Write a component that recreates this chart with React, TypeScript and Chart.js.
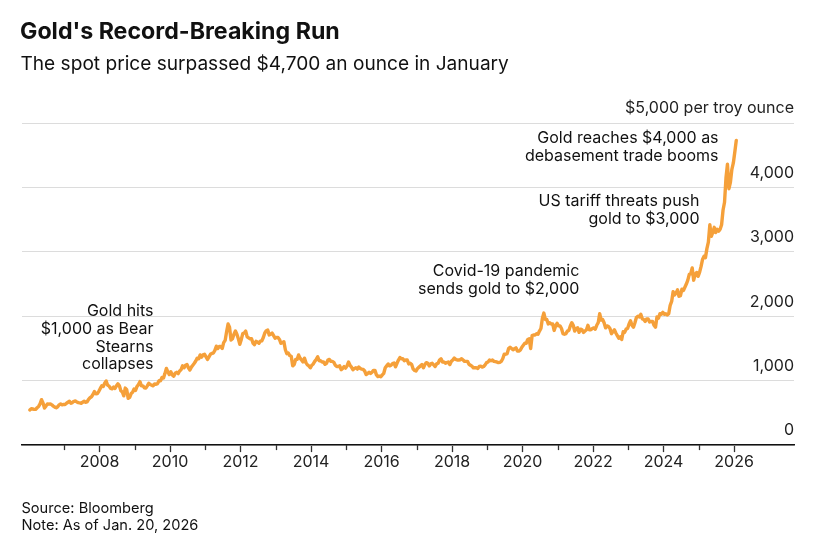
import React, { useEffect, useRef } from "react";
import { Chart, registerables } from "chart.js";

Chart.register(...registerables);

const FONT = "Inter, 'Liberation Sans', Arial, sans-serif";

const TITLE = "Gold's Record-Breaking Run";
const SUBTITLE = "The spot price surpassed $4,700 an ounce in January";
const SOURCE = "Source: Bloomberg";
const NOTE = "Note: As of Jan. 20, 2026";

// Spot gold, USD per troy ounce, two readings per month (first half, second half)
const START_YEAR = 2006;
const READINGS_PER_YEAR = 24;
const y2006 = [545, 565, 560, 555, 555, 580, 600, 640, 705, 655, 575, 605, 640, 635, 640, 625, 605, 590, 580, 595, 625, 640, 625, 632];
const y2007 = [630, 650, 665, 680, 650, 660, 680, 685, 670, 660, 655, 650, 665, 680, 665, 670, 710, 735, 750, 785, 830, 795, 800, 835];
const y2008 = [880, 920, 910, 960, 995, 930, 915, 880, 875, 900, 880, 920, 950, 920, 845, 825, 765, 885, 860, 725, 740, 800, 820, 870];
const y2009 = [850, 910, 940, 985, 920, 920, 890, 885, 920, 960, 940, 930, 920, 950, 945, 955, 1000, 1000, 1050, 1040, 1110, 1190, 1135, 1095];
const y2010 = [1140, 1090, 1070, 1115, 1130, 1110, 1150, 1170, 1230, 1200, 1240, 1250, 1200, 1165, 1210, 1240, 1270, 1305, 1350, 1340, 1400, 1365, 1400, 1410];
const y2011 = [1370, 1330, 1370, 1410, 1425, 1430, 1470, 1535, 1500, 1530, 1530, 1500, 1590, 1625, 1760, 1880, 1830, 1630, 1650, 1720, 1770, 1720, 1650, 1565];
const y2012 = [1640, 1730, 1740, 1770, 1680, 1665, 1650, 1650, 1580, 1560, 1610, 1600, 1580, 1615, 1620, 1670, 1740, 1775, 1785, 1710, 1720, 1740, 1700, 1660];
const y2013 = [1670, 1670, 1640, 1580, 1590, 1605, 1480, 1420, 1430, 1390, 1380, 1230, 1250, 1330, 1330, 1400, 1350, 1320, 1290, 1350, 1280, 1245, 1230, 1200];
const y2014 = [1240, 1260, 1300, 1330, 1370, 1310, 1310, 1290, 1290, 1255, 1270, 1320, 1330, 1300, 1300, 1285, 1240, 1220, 1220, 1230, 1170, 1190, 1220, 1195];
const y2015 = [1230, 1290, 1240, 1210, 1170, 1190, 1200, 1180, 1210, 1190, 1180, 1175, 1150, 1095, 1110, 1130, 1110, 1130, 1160, 1160, 1090, 1065, 1070, 1060];
const y2016 = [1090, 1115, 1200, 1230, 1260, 1230, 1240, 1265, 1275, 1215, 1270, 1320, 1360, 1340, 1340, 1310, 1320, 1320, 1260, 1270, 1250, 1180, 1160, 1150];
const y2017 = [1190, 1210, 1230, 1250, 1200, 1250, 1280, 1270, 1230, 1260, 1270, 1245, 1220, 1260, 1270, 1320, 1340, 1290, 1290, 1270, 1280, 1290, 1250, 1300];
const y2018 = [1320, 1350, 1330, 1320, 1320, 1325, 1340, 1320, 1300, 1300, 1300, 1255, 1240, 1225, 1200, 1200, 1200, 1190, 1220, 1225, 1210, 1220, 1245, 1280];
const y2019 = [1290, 1320, 1310, 1320, 1300, 1295, 1290, 1280, 1285, 1300, 1340, 1410, 1410, 1420, 1500, 1520, 1500, 1480, 1495, 1510, 1460, 1460, 1475, 1520];
const y2020 = [1550, 1580, 1580, 1640, 1650, 1500, 1700, 1710, 1710, 1730, 1720, 1770, 1810, 1970, 2050, 1950, 1950, 1880, 1900, 1880, 1880, 1780, 1850, 1890];
const y2021 = [1850, 1850, 1810, 1730, 1720, 1730, 1770, 1780, 1850, 1900, 1860, 1770, 1810, 1820, 1750, 1800, 1790, 1750, 1770, 1790, 1860, 1790, 1790, 1810];
const y2022 = [1820, 1800, 1860, 1900, 2040, 1940, 1950, 1900, 1820, 1850, 1840, 1810, 1730, 1760, 1790, 1740, 1700, 1660, 1680, 1640, 1760, 1750, 1800, 1810];
const y2023 = [1880, 1930, 1860, 1830, 1900, 1980, 2000, 1990, 2030, 1960, 1950, 1920, 1960, 1960, 1910, 1920, 1920, 1860, 1830, 1990, 1970, 2040, 2030, 2060];
const y2024 = [2030, 2040, 2020, 2040, 2170, 2230, 2380, 2330, 2360, 2410, 2310, 2320, 2420, 2400, 2450, 2500, 2560, 2650, 2660, 2750, 2560, 2650, 2680, 2620];
const y2025 = [2680, 2770, 2880, 2930, 2910, 3050, 3150, 3420, 3240, 3300, 3380, 3300, 3350, 3320, 3350, 3420, 3650, 3770, 4150, 4360, 3980, 4080, 4280, 4380];
const y2026 = [4550, 4730];

const prices = [
  ...y2006, ...y2007, ...y2008, ...y2009, ...y2010, ...y2011, ...y2012,
  ...y2013, ...y2014, ...y2015, ...y2016, ...y2017, ...y2018, ...y2019,
  ...y2020, ...y2021, ...y2022, ...y2023, ...y2024, ...y2025, ...y2026,
];

const xTickYears = [2007, 2008, 2009, 2010, 2011, 2012, 2013, 2014, 2015, 2016, 2017, 2018, 2019, 2020, 2021, 2022, 2023, 2024, 2025, 2026];
const xLabelYears = [2008, 2010, 2012, 2014, 2016, 2018, 2020, 2022, 2024, 2026];
const X_MIN = 2005.8;
const X_MAX = 2027.7;

const yTickValues = [0, 1000, 2000, 3000, 4000, 5000];
const yTickLabels = ["0", "1,000", "2,000", "3,000", "4,000", "$5,000 per troy ounce"];

const annotations = [
  { lines: ["Gold hits", "$1,000 as Bear", "Stearns", "collapses"], x: 2009.53, y: 2074 },
  { lines: ["Covid-19 pandemic", "sends gold to $2,000"], x: 2021.61, y: 2701 },
  { lines: ["US tariff threats push", "gold to $3,000"], x: 2025.02, y: 3782 },
  { lines: ["Gold reaches $4,000 as", "debasement trade booms"], x: 2025.56, y: 4765 },
];

const isLabelYear = (v: number) => xLabelYears.includes(v);

const annotationPlugin = {
  id: "annotations",
  afterDraw(chart: any) {
    const ctx = chart.ctx;
    const xs = chart.scales.x;
    const ys = chart.scales.y;
    ctx.save();
    // minor (unlabelled) year ticks, shorter than labelled ones
    ctx.strokeStyle = "#333";
    ctx.lineWidth = 1.3;
    for (const yr of xTickYears) {
      if (isLabelYear(yr)) continue;
      const px = Math.round(xs.getPixelForValue(yr)) + 0.5;
      ctx.beginPath();
      ctx.moveTo(px, xs.top);
      ctx.lineTo(px, xs.top + 5);
      ctx.stroke();
    }
    ctx.font = `16px ${FONT}`;
    ctx.fillStyle = "#111";
    ctx.textAlign = "right";
    ctx.textBaseline = "middle";
    for (const a of annotations) {
      const px = xs.getPixelForValue(a.x);
      const py = ys.getPixelForValue(a.y);
      a.lines.forEach((line, i) => ctx.fillText(line, px, py + i * 17.6));
    }
    ctx.restore();
  },
};

export default function App() {
  const ref = useRef<HTMLCanvasElement>(null);
  useEffect(() => {
    const canvas = ref.current;
    if (!canvas) return;
    const data = prices.map((p, i) => ({ x: START_YEAR + (i + 0.5) / READINGS_PER_YEAR, y: p }));
    const chart = new Chart(canvas, {
      type: "line",
      data: {
        datasets: [
          {
            data,
            borderColor: "#F5A03A",
            borderWidth: 3.4,
            pointRadius: 0,
            tension: 0,
            borderJoinStyle: "round",
            borderCapStyle: "round",
          },
        ],
      },
      options: {
        animation: false,
        responsive: false,
        maintainAspectRatio: false,
        layout: { padding: { left: 22, right: 29, top: 123, bottom: 73.7 } },
        plugins: { legend: { display: false }, tooltip: { enabled: false }, title: { display: false } },
        scales: {
          x: {
            type: "linear",
            min: X_MIN,
            max: X_MAX,
            afterBuildTicks: (axis: any) => {
              axis.ticks = xTickYears.map((v) => ({ value: v }));
            },
            ticks: {
              autoSkip: false,
              maxRotation: 0,
              padding: 0,
              color: "#222",
              font: { family: FONT, size: 16 },
              callback: (v: any) => (isLabelYear(Number(v)) ? String(v) : ""),
            },
            grid: {
              display: true,
              drawOnChartArea: false,
              drawTicks: true,
              tickLength: 7,
              tickColor: (c: any) => (c.tick && isLabelYear(c.tick.value) ? "#333" : "rgba(0,0,0,0)"),
              tickWidth: 1.3,
            },
            border: { display: true, color: "#111", width: 1.5 },
          },
          y: {
            type: "linear",
            position: "right",
            min: 0,
            max: 5000,
            afterBuildTicks: (axis: any) => {
              axis.ticks = yTickValues.map((v) => ({ value: v }));
            },
            ticks: {
              mirror: true,
              padding: 0,
              labelOffset: -14.5,
              color: "#222",
              font: { family: FONT, size: 16 },
              callback: (v: any) => yTickLabels[yTickValues.indexOf(Number(v))] ?? "",
            },
            grid: { color: "#dcdcdc", lineWidth: 1, drawTicks: false },
            border: { display: false },
          },
        },
      },
      plugins: [annotationPlugin],
    } as any);
    return () => chart.destroy();
  }, []);

  return (
    <div
      style={{
        position: "fixed",
        left: 0,
        top: 0,
        width: 823,
        height: 545,
        background: "#fff",
        overflow: "hidden",
        fontFamily: FONT,
        color: "#111",
      }}
    >
      <canvas ref={ref} width={823} height={545} style={{ position: "absolute", left: 0, top: 0, width: 823, height: 545 }} />
      <div style={{ position: "absolute", left: 20, top: 20.4, fontSize: 23.2, lineHeight: "23.2px", fontWeight: 700, whiteSpace: "nowrap" }}>{TITLE}</div>
      <div style={{ position: "absolute", left: 20.5, top: 53.5, fontSize: 19.1, lineHeight: "19.1px", whiteSpace: "nowrap" }}>{SUBTITLE}</div>
      <div style={{ position: "absolute", left: 21.5, top: 501, fontSize: 14.6, lineHeight: "14.6px", whiteSpace: "nowrap" }}>{SOURCE}</div>
      <div style={{ position: "absolute", left: 21.5, top: 518.4, fontSize: 14.6, lineHeight: "14.6px", whiteSpace: "nowrap" }}>{NOTE}</div>
    </div>
  );
}
